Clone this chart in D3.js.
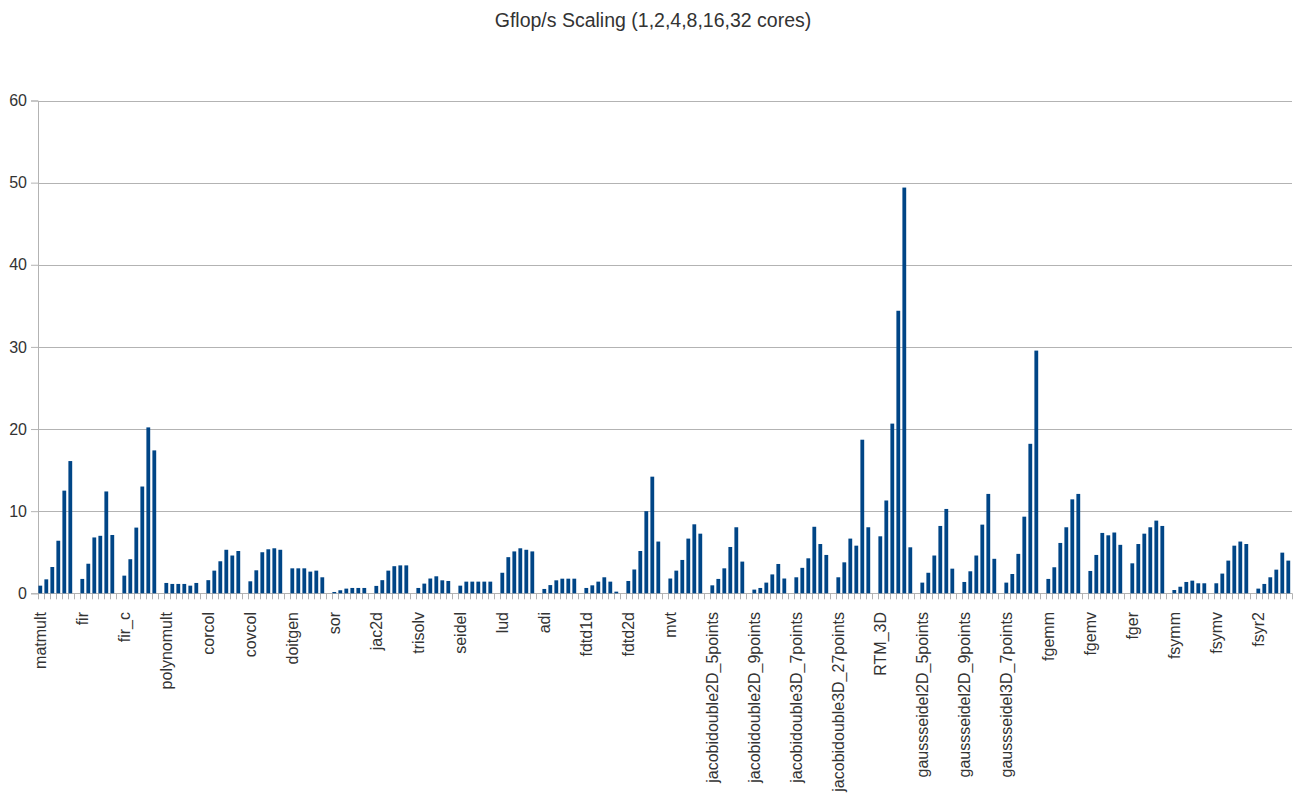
<!DOCTYPE html>
<html>
<head>
<meta charset="utf-8">
<title>Gflop/s Scaling</title>
<script src="https://cdn.jsdelivr.net/npm/d3@7"></script>
<style>
  html, body { margin: 0; padding: 0; background: #fff; }
  svg { display: block; font-family: "Liberation Sans", Arial, sans-serif; }
</style>
</head>
<body>
<svg id="chart" width="1294" height="797"></svg>
<script>
// Benchmarks, each measured on 1, 2, 4, 8, 16 and 32 cores
const benchmarks = [
  "matmult", "fir", "fir_c", "polynomult", "corcol", "covcol", "doitgen", "sor",
  "jac2d", "trisolv", "seidel", "lud", "adi", "fdtd1d", "fdtd2d", "mvt",
  "jacobidouble2D_5points", "jacobidouble2D_9points", "jacobidouble3D_7points",
  "jacobidouble3D_27points", "RTM_3D", "gaussseidel2D_5points",
  "gaussseidel2D_9points", "gaussseidel3D_7points", "fgemm", "fgemv", "fger",
  "fsymm", "fsymv", "fsyr2"
];
const coreCounts = [1, 2, 4, 8, 16, 32];

// Gflop/s per benchmark, one array per core count (same order as benchmarks)
const cores1  = [0.93, 1.75, 2.15, 1.26, 1.6, 1.46, 3.04, 0.16, 0.9, 0.65, 0.93, 2.5, 0.53, 0.65, 1.5, 1.8,
                 0.97, 0.45, 1.95, 1.95, 6.94, 1.3, 1.38, 1.3, 1.75, 2.72, 3.65, 0.4, 1.22, 0.57];
const cores2  = [1.7, 3.6, 4.15, 1.14, 2.76, 2.8, 3.04, 0.37, 1.6, 1.18, 1.42, 4.4, 1.0, 0.97, 2.9, 2.76,
                 1.75, 0.65, 3.1, 3.77, 11.3, 2.5, 2.68, 2.35, 3.17, 4.67, 6.0, 0.8, 2.4, 1.14];
const cores4  = [3.2, 6.8, 8.0, 1.14, 3.9, 5.0, 3.04, 0.57, 2.76, 1.8, 1.42, 5.1, 1.58, 1.42, 5.15, 4.06,
                 3.04, 1.3, 4.26, 6.66, 20.66, 4.6, 4.6, 4.8, 6.13, 7.35, 7.26, 1.38, 3.98, 1.95];
const cores8  = [6.4, 7.0, 13.0, 1.14, 5.3, 5.36, 2.64, 0.65, 3.3, 2.07, 1.42, 5.48, 1.78, 1.95, 10.0, 6.66,
                 5.64, 2.3, 8.1, 5.8, 34.4, 8.2, 8.36, 9.33, 8.04, 7.06, 8.04, 1.54, 5.8, 2.88];
const cores16 = [12.5, 12.4, 20.2, 0.93, 4.6, 5.48, 2.76, 0.65, 3.4, 1.58, 1.42, 5.3, 1.78, 1.42, 14.2, 8.4,
                 8.04, 3.57, 6.0, 18.7, 49.4, 10.27, 12.1, 18.2, 11.44, 7.4, 8.85, 1.22, 6.3, 4.95];
const cores32 = [16.1, 7.1, 17.4, 1.26, 5.15, 5.3, 1.95, 0.65, 3.4, 1.5, 1.42, 5.1, 1.78, 0.2, 6.3, 7.26,
                 3.86, 1.8, 4.67, 8.04, 5.6, 3.0, 4.2, 29.55, 12.1, 5.9, 8.2, 1.22, 6.0, 3.98];
const yTicks = [0, 10, 20, 30, 40, 50, 60];

const series = [cores1, cores2, cores4, cores8, cores16, cores32];

// Flatten into category slots: six bars per benchmark, then one empty slot
const rows = [];
benchmarks.forEach((name, b) => {
  coreCounts.forEach((c, k) => {
    rows.push({ label: k === 0 ? name : "", cores: c, value: series[k][b] });
  });
  if (b < benchmarks.length - 1) rows.push({ label: "", cores: null, value: null });
});

const svg = d3.select("#chart");
const W = 1294;
const plot = { left: 38, right: 1292, top: 100.5, bottom: 593.3 };

const x = d3.scaleBand()
  .domain(d3.range(rows.length))
  .range([plot.left, plot.right])
  .padding(0);

const y = d3.scaleLinear()
  .domain([0, 60])
  .range([plot.bottom, plot.top]);

const gridColor = "#b3b3b3";
const textColor = "#333333";

// Title
svg.append("text")
  .attr("x", W / 2 + 6)
  .attr("y", 27)
  .attr("text-anchor", "middle")
  .attr("font-size", 19.5)
  .attr("fill", textColor)
  .text("Gflop/s Scaling (1,2,4,8,16,32 cores)");

// Horizontal grid lines
svg.append("g")
  .selectAll("line")
  .data(yTicks)
  .join("line")
  .attr("x1", plot.left)
  .attr("x2", plot.right)
  .attr("y1", d => Math.round(y(d)) + 0.5)
  .attr("y2", d => Math.round(y(d)) + 0.5)
  .attr("stroke", gridColor)
  .attr("stroke-width", 1);

// Y axis
const yAxis = svg.append("g")
  .attr("transform", `translate(${plot.left},0)`)
  .call(d3.axisLeft(y).tickValues(yTicks).tickSize(7).tickPadding(4).tickFormat(d3.format("d")));
yAxis.select(".domain").attr("stroke", gridColor);
yAxis.selectAll(".tick line").attr("stroke", gridColor);
yAxis.selectAll(".tick text")
  .attr("font-size", 16)
  .attr("font-family", "Liberation Sans, Arial, sans-serif")
  .attr("fill", textColor);

// X axis baseline and tick marks at every slot boundary
const xTickPositions = d3.range(rows.length + 1).map(i => plot.left + i * x.step());
svg.append("g")
  .selectAll("line")
  .data(xTickPositions)
  .join("line")
  .attr("x1", d => Math.round(d) + 0.5)
  .attr("x2", d => Math.round(d) + 0.5)
  .attr("y1", y(0))
  .attr("y2", y(0) + 6)
  .attr("stroke", gridColor);

// Bars
const barWidth = 3.8;
svg.append("g")
  .selectAll("rect")
  .data(rows.map((r, i) => ({ ...r, i })).filter(r => r.value !== null))
  .join("rect")
  .attr("x", d => x(d.i) + 0.4)
  .attr("width", barWidth)
  .attr("y", d => y(d.value))
  .attr("height", d => y(0) - y(d.value))
  .attr("fill", "#004586");

// Category labels, rotated
svg.append("g")
  .selectAll("text")
  .data(rows.map((r, i) => ({ ...r, i })).filter(r => r.label))
  .join("text")
  .attr("transform", d => `translate(${x(d.i) + 2.4},612) rotate(-90)`)
  .attr("text-anchor", "end")
  .attr("dy", "0.35em")
  .attr("font-size", 16)
  .attr("fill", textColor)
  .text(d => d.label);
</script>
</body>
</html>
